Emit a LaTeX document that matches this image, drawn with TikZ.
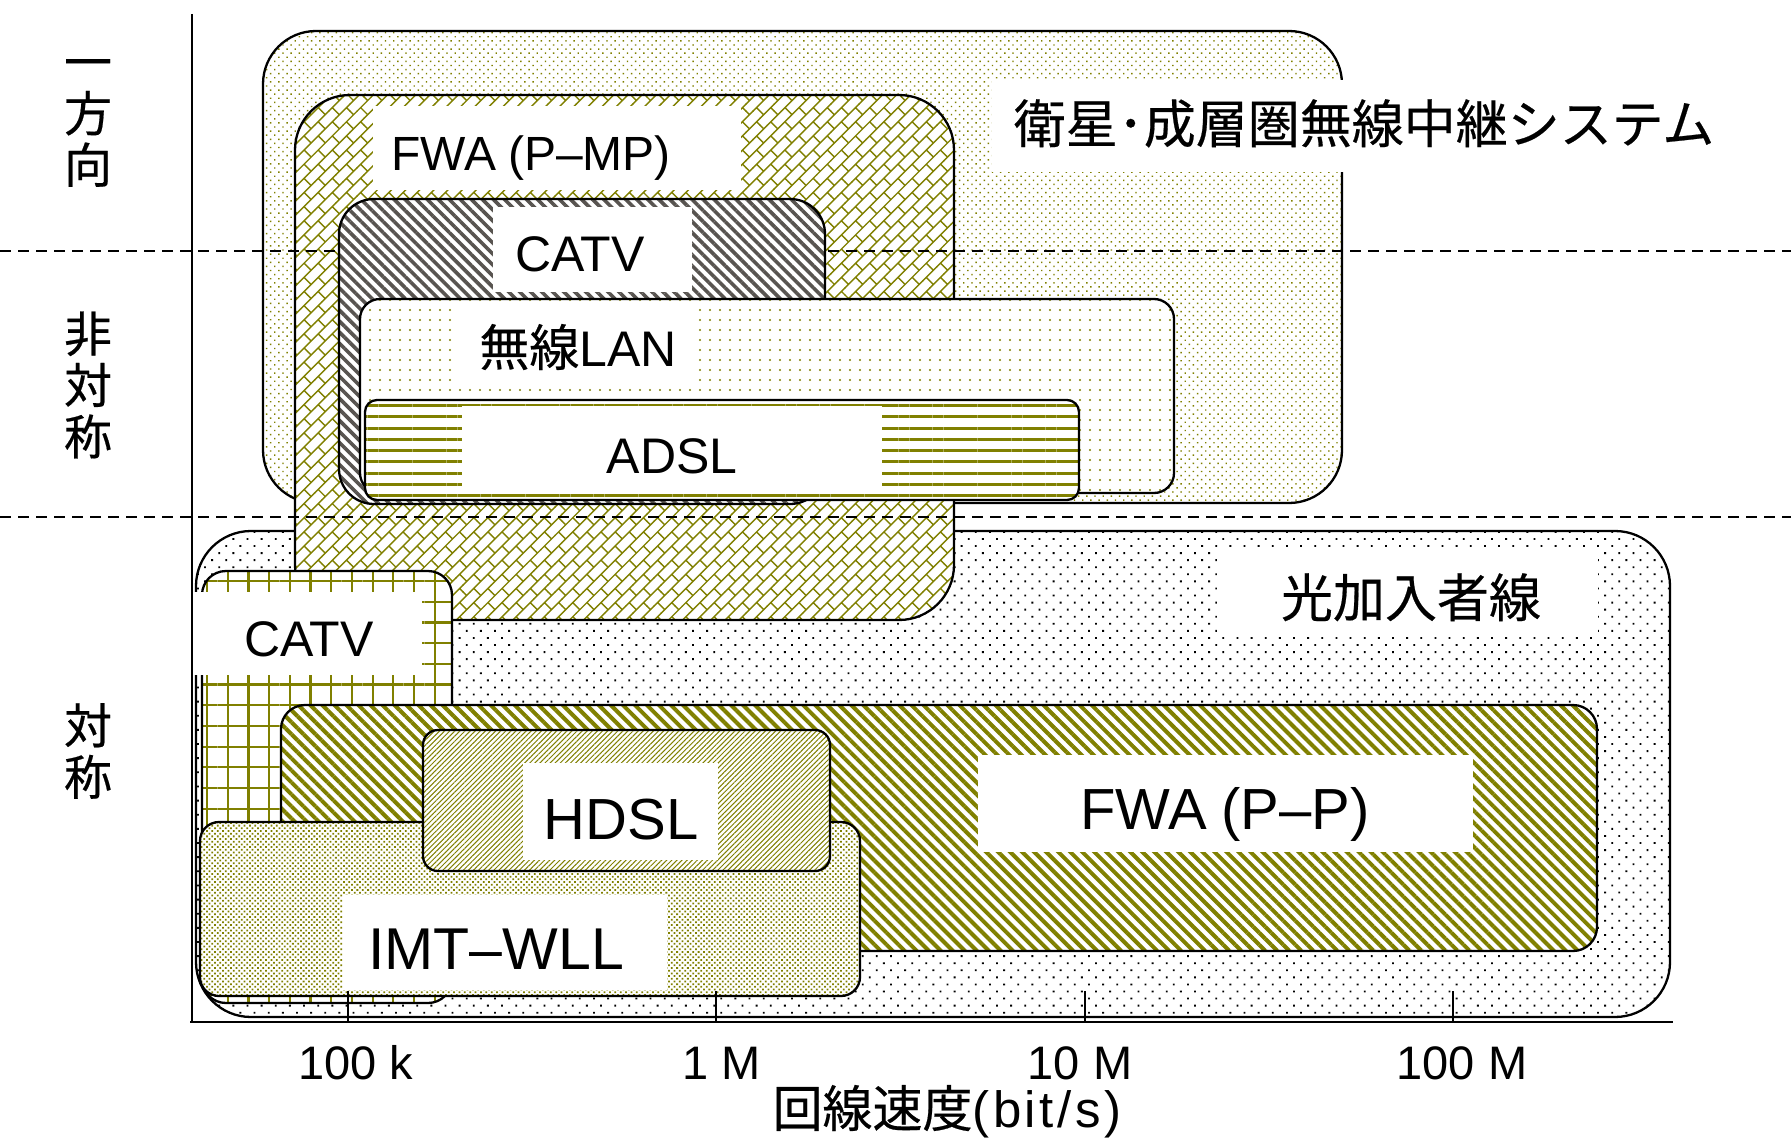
\documentclass[tikz,border=0pt]{standalone}
\usepackage{fontspec}
\setmainfont{Liberation Sans}
\newfontfamily\cjk{Noto Sans CJK JP}[FakeBold=0.4]
\usetikzlibrary{patterns.meta}

\definecolor{olv}{RGB}{128,128,0}
\definecolor{stripegray}{RGB}{88,84,80}

\newcommand\setfs[1]{\fontsize{#1pt}{#1pt}\selectfont}

% diagonal brick hatch
\pgfdeclarepattern{
  name=DiagBricks,
  type=uncolored,
  bottom left={\pgfpoint{-0.3pt}{-0.3pt}},
  top right={\pgfpoint{20.3pt}{20.3pt}},
  tile size={\pgfpoint{20pt}{20pt}},
  tile transformation={\pgftransformrotate{45}},
  code={
    \pgfsetlinewidth{1.4pt}
    \pgfpathmoveto{\pgfpoint{-0.3pt}{5pt}}\pgfpathlineto{\pgfpoint{20.3pt}{5pt}}
    \pgfpathmoveto{\pgfpoint{-0.3pt}{15pt}}\pgfpathlineto{\pgfpoint{20.3pt}{15pt}}
    \pgfpathmoveto{\pgfpoint{5pt}{5pt}}\pgfpathlineto{\pgfpoint{5pt}{15pt}}
    \pgfpathmoveto{\pgfpoint{15pt}{15pt}}\pgfpathlineto{\pgfpoint{15pt}{20.3pt}}
    \pgfpathmoveto{\pgfpoint{15pt}{-0.3pt}}\pgfpathlineto{\pgfpoint{15pt}{5pt}}
    \pgfusepath{stroke}
  }
}

\begin{document}
\begin{tikzpicture}[x=1pt, y=-1pt,
  frame/.style={draw=black, line width=2.3pt, preaction={fill=white}},
  lab/.style={anchor=base, inner sep=0pt, text=black},
  labbg/.style={fill=white},
  axisline/.style={draw=black, line width=2.3pt},
  rowsep/.style={draw=black, line width=2pt, dash pattern=on 11pt off 7pt},
  rowcap/.style={align=center, inner sep=0pt, font={\cjk\fontsize{48pt}{51.5pt}\selectfont}},
  patSat/.style={pattern={Dots[angle=45, distance=5.8pt, radius=1pt]}, pattern color=olv},
  patPMP/.style={pattern={DiagBricks}, pattern color=olv},
  patCatvA/.style={pattern={Lines[angle=-45, distance=7.8pt, line width=3.6pt]}, pattern color=stripegray},
  patLan/.style={pattern={Dots[distance=10pt, radius=1.1pt]}, pattern color=olv},
  patAdsl/.style={pattern={Lines[distance=11.3pt, line width=3pt]}, pattern color=olv},
  patFiber/.style={pattern={Dots[angle=45, distance=10pt, radius=1.3pt]}, pattern color=black},
  patCatvS/.style={pattern={Hatch[distance=20.7pt, line width=2.2pt]}, pattern color=olv},
  patPP/.style={pattern={Lines[angle=-45, distance=8.5pt, line width=4pt]}, pattern color=olv},
  patHdsl/.style={pattern={Lines[angle=45, distance=3.6pt, line width=1pt]}, pattern color=olv},
  patImt/.style={pattern={Dots[angle=45, distance=3.8pt, radius=1.25pt]}, pattern color=olv},
]
\useasboundingbox (0,0) rectangle (1791,1140);
\fill[white] (0,0) rectangle (1791,1140);

% ---- optical subscriber line (bottom layer)
\draw[frame, patFiber, rounded corners=55pt] (196,531) rectangle (1670,1017);
\fill[labbg] (1217,547) rectangle (1598,635);
\node[lab, font={\cjk\setfs{52}}] (fiber) at (1411,617) {光加入者線};

% ---- satellite / stratospheric relay
\draw[frame, patSat, rounded corners=53pt] (263,31) rectangle (1342,503);
\fill[labbg] (992,80) rectangle (1722,172);
\node[lab, font={\cjk\setfs{52}}] (sat) at (1364,143) {衛星･成層圏無線中継システム};

% ---- FWA point-to-multipoint
\draw[frame, patPMP, rounded corners=55pt] (295,95) rectangle (954,620);
\fill[labbg] (373,106) rectangle (741,190);
\node[lab, font={\setfs{48}}] (fwapmp) at (531,170) {FWA\kern0.25em(P–MP)};

% ---- row separators
\draw[rowsep] (0,251) -- (1791,251);
\draw[rowsep] (0,517) -- (1791,517);

% ---- CATV (asymmetric)
\draw[frame, patCatvA, rounded corners=35pt] (339,199) rectangle (825,504);
\fill[labbg] (493,207) rectangle (692,292);
\node[lab, font={\setfs{50}}] (catvA) at (580,271) {CATV};

% ---- wireless LAN
\draw[frame, patLan, rounded corners=20pt] (360,299) rectangle (1174,493);
\fill[labbg] (455,303) rectangle (698,388);
\node[lab, font={\setfs{50}}] (wlan) at (578,366) {{\cjk 無線}LAN};

% ---- ADSL
\draw[frame, patAdsl, rounded corners=12pt] (365,400) rectangle (1079,500);
\fill[labbg] (462,406) rectangle (882,494);
\node[lab, font={\setfs{50}}] (adsl) at (672,473) {ADSL};

% ---- CATV (symmetric)
\draw[frame, patCatvS, rounded corners=24pt] (202,571) rectangle (452,1003);
\fill[labbg] (193,592) rectangle (422,675);
\node[lab, font={\setfs{50}}] (catvS) at (309,656) {CATV};

% ---- FWA point-to-point
\draw[frame, patPP, rounded corners=24pt] (281,705) rectangle (1597,951);
\fill[labbg] (978,755) rectangle (1473,852);
\node[lab, font={\setfs{58}}] (fwapp) at (1225,829) {FWA\kern0.25em(P–P)};

% ---- IMT-WLL
\draw[frame, patImt, rounded corners=19pt] (200,822) rectangle (860,996);
\fill[labbg] (343,895) rectangle (667,990);
\node[lab, font={\setfs{59}}] (imt) at (496,969) {IMT–WLL};

% ---- HDSL
\draw[frame, patHdsl, rounded corners=15pt] (423,730) rectangle (830,871);
\fill[labbg] (523,763) rectangle (718,860);
\node[lab, font={\setfs{58}}] (hdsl) at (621,839) {HDSL};

% ---- axes and ticks
\draw[axisline] (192,14) -- (192,1022);
\draw[axisline] (190,1022) -- (1673,1022);
\foreach \tx in {348,716,1085,1453} {
  \draw[black, line width=2pt] (\tx,1022) -- (\tx,991);
}
\node[lab, font={\setfs{47}}] (t100k) at (356,1079) {100 k};
\node[lab, font={\setfs{47}}] (t1M) at (722,1079) {1 M};
\node[lab, font={\setfs{47}}] (t10M) at (1080,1079) {10 M};
\node[lab, font={\setfs{47}}] (t100M) at (1462,1079) {100 M};
\node[lab, font={\cjk\setfs{50}}] (xlabel) at (947,1127)
  {回線速度{\setmainfont{Liberation Sans}[LetterSpace=7]\fontsize{51pt}{51pt}\selectfont(bit/s)}};

% ---- row captions
\node[rowcap] (oneway) at (88,123) {一\\方\\向};
\node[rowcap] (asym) at (88,385) {非\\対\\称};
\node[rowcap] (sym) at (88,751) {対\\称};
\end{tikzpicture}
\end{document}
